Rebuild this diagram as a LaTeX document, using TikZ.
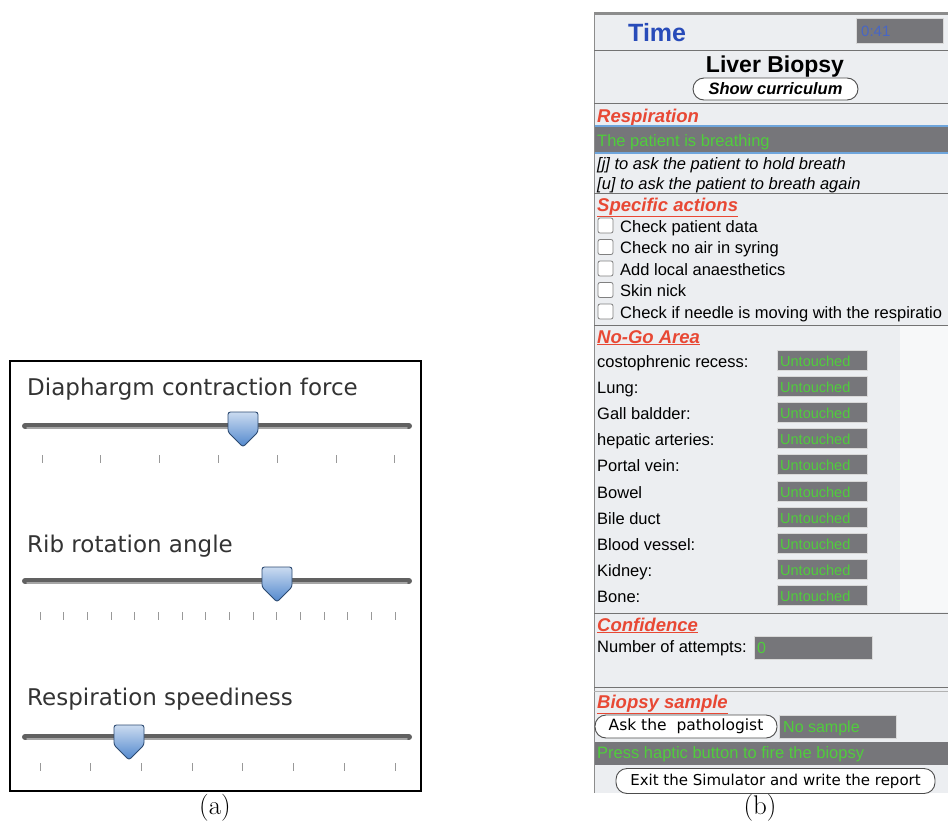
\documentclass[tikz,border=0pt]{standalone}
\usepackage{fontspec}
\newfontfamily\arialfont{Liberation Sans}
\newfontfamily\lucidafont{DejaVu Sans}
\usepackage{tikz}
\usetikzlibrary{positioning, calc}
\definecolor{headred}{RGB}{232, 72, 52}
\definecolor{okgreen}{RGB}{80, 205, 60}
\definecolor{boxgray}{RGB}{118, 118, 122}
\definecolor{timeblue}{RGB}{40, 75, 185}
\definecolor{panelgray}{RGB}{236, 238, 241}
\definecolor{barblue}{RGB}{110, 165, 220}
\definecolor{thumbblue}{RGB}{80, 135, 205}

\tikzset{
  slidertitle/.style={anchor=base west, inner sep=0pt, text=black!80, font=\lucidafont\fontsize{23}{26}\selectfont},
  track/.style={line width=6pt, line cap=round, draw=black!62},
  slidertick/.style={draw=black!40, line width=0.8pt},
  thumb/.style={draw=thumbblue!55!black, line width=0.9pt, rounded corners=2.5pt, top color=thumbblue!30!white, bottom color=thumbblue},
  rowtext/.style={anchor=base west, inner sep=0pt, font=\arialfont\fontsize{16.5}{18}\selectfont},
  heading/.style={anchor=base west, inner sep=0pt, text=headred, font=\arialfont\bfseries\itshape\fontsize{18.5}{20}\selectfont},
  statbox/.style={fill=boxgray, draw=white!85!black, line width=1pt},
  stattext/.style={anchor=base west, inner sep=0pt, text=okgreen, font=\arialfont\fontsize{14.5}{16}\selectfont},
  checkbox/.style={fill=white, draw=black!50, line width=0.8pt, rounded corners=2pt},
  pill/.style={draw=black!70, fill=white, rounded corners=11pt, line width=0.9pt, inner sep=0pt},
  divider/.style={draw=black!55, line width=0.8pt}
}

\begin{document}
\begin{tikzpicture}[x=1pt, y=-1pt]
  \useasboundingbox (0,0) rectangle (948,825);

  % (a) respiration sliders
  \draw[line width=2pt] (10,361) rectangle (421,791);

  \node[slidertitle] (diatitle) at (27,395) {Diaphargm contraction force};
  \draw[track] (25,426) -- (409,426);
  \draw[black!35, line width=1.5pt, line cap=round] (27,428) -- (407,428);
  \foreach \i in {0,...,6}
    \draw[slidertick] ({42+\i*58.8},455) -- ++(0,8);
  \draw[thumb] (228,412) -- (258,412) -- (258,432) -- (243,447) -- (228,432) -- cycle;

  \node[slidertitle] (ribtitle) at (27,552) {Rib rotation angle};
  \draw[track] (25,581) -- (409,581);
  \draw[black!35, line width=1.5pt, line cap=round] (27,583) -- (407,583);
  \foreach \i in {0,...,15}
    \draw[slidertick] ({40+\i*23.67},612) -- ++(0,8);
  \draw[thumb] (262,567) -- (292,567) -- (292,587) -- (277,602) -- (262,587) -- cycle;

  \node[slidertitle] (speedtitle) at (27,705) {Respiration speediness};
  \draw[track] (25,737) -- (409,737);
  \draw[black!35, line width=1.5pt, line cap=round] (27,739) -- (407,739);
  \foreach \i in {0,...,7}
    \draw[slidertick] ({40+\i*50.7},763) -- ++(0,8);
  \draw[thumb] (114,725) -- (144,725) -- (144,745) -- (129,760) -- (114,745) -- cycle;

  \node[font=\fontsize{27}{30}\selectfont] (capa) at (215,808) {(a)};

  % (b) simulator panel
  \begin{scope}
    \clip (594,12) rectangle (948,793);
    \fill[panelgray] (594,12) rectangle (948,793);
    \fill[panelgray!40!white] (900,326) rectangle (948,612);
    \draw[line width=3pt, black!45] (594,13) -- (948,13);
    \draw[line width=1.5pt, black!45] (594.5,12) -- (594.5,793);

    % time row
    \node[anchor=base west, inner sep=0pt, text=timeblue, font=\arialfont\bfseries\fontsize{25}{28}\selectfont] (timelbl) at (628,41) {Time};
    \draw[statbox] (856,18) rectangle (943,43);
    \node[anchor=base west, inner sep=0pt, text=timeblue!85, font=\arialfont\fontsize{15}{17}\selectfont] (timeval) at (861,36) {0:41};
    \draw[divider] (594,50) -- (948,50);

    % title
    \node[anchor=base, inner sep=0pt, font=\arialfont\bfseries\fontsize{23}{26}\selectfont] (biopsy) at (775,72) {Liver Biopsy};
    \node[pill, minimum width=165pt, minimum height=22pt, font=\arialfont\bfseries\itshape\fontsize{16.5}{18}\selectfont] (curric) at (775.5,89) {Show curriculum};
    \draw[divider] (594,103) -- (948,103);

    % respiration
    \node[heading] (resp) at (597,122) {\underline{Respiration}};
    \fill[boxgray] (595,127) rectangle (948,152);
    \draw[barblue, line width=2pt] (595,126) -- (948,126) (595,153) -- (948,153);
    \node[stattext, font=\arialfont\fontsize{16.5}{18}\selectfont] (breath) at (597,146) {The patient is breathing};
    \node[rowtext, font=\arialfont\itshape\fontsize{16.5}{18}\selectfont] (holdj) at (597,169) {[j] to ask the patient to hold breath};
    \node[rowtext, font=\arialfont\itshape\fontsize{16.5}{18}\selectfont] (holdu) at (597,189) {[u] to ask the patient to breath again};
    \draw[divider] (594,193) -- (948,193);

    % specific actions
    \node[heading] (spec) at (597,211) {\underline{Specific actions}};
    \foreach \act [count=\i] in {Check patient data, Check no air in syring, Add local anaesthetics, Skin nick, Check if needle is moving with the respiratio} {
      \draw[checkbox] (598,{218+(\i-1)*21.5}) rectangle ++(15,15);
      \node[rowtext] (act\i) at (620,{232+(\i-1)*21.5}) {\act};
    }
    \draw[divider] (594,325) -- (948,325);

    % no-go area
    \node[heading] (nogo) at (597,343) {\underline{No-Go Area}};
    \foreach \organ [count=\i] in {costophrenic recess:, Lung:, Gall baldder:, hepatic arteries:, Portal vein:, Bowel, Bile duct, Blood vessel:, Kidney:, Bone:} {
      \node[rowtext] (organ\i) at (597,{367+(\i-1)*26.2}) {\organ};
      \draw[statbox] (777,{350+(\i-1)*26.2}) rectangle (867,{370+(\i-1)*26.2});
      \node[stattext] (state\i) at (780,{366+(\i-1)*26.2}) {Untouched};
    }
    \draw[divider] (594,613) -- (948,613);

    % confidence
    \node[heading] (conf) at (597,631) {\underline{Confidence}};
    \node[rowtext] (attempts) at (597,652) {Number of attempts:};
    \draw[statbox] (754,636) rectangle (872,659);
    \node[stattext, font=\arialfont\fontsize{16}{18}\selectfont] (attval) at (757,653) {0};
    \draw[divider] (594,687) -- (948,687);
    \draw[divider, black!30] (594,691) -- (948,691);

    % biopsy sample
    \node[heading] (sample) at (597,708) {\underline{Biopsy sample}};
    \node[pill, minimum width=182pt, minimum height=23pt, font=\lucidafont\fontsize{15.5}{17}\selectfont] (askbtn) at (686,726.5) {Ask the\ \ pathologist};
    \draw[statbox] (779,715) rectangle (896,738);
    \node[stattext, font=\arialfont\fontsize{16}{18}\selectfont] (noval) at (783,732) {No sample};
    \fill[boxgray] (595,742) rectangle (948,765);
    \node[stattext, font=\arialfont\fontsize{16.5}{18}\selectfont] (haptic) at (597,758) {Press haptic button to fire the biopsy};
    \node[pill, minimum width=319pt, minimum height=25pt, font=\lucidafont\fontsize{15}{17}\selectfont] (exitbtn) at (775.5,781) {Exit the Simulator and write the report};
  \end{scope}

  \node[font=\fontsize{27}{30}\selectfont] (capb) at (760,808) {(b)};
\end{tikzpicture}
\end{document}
